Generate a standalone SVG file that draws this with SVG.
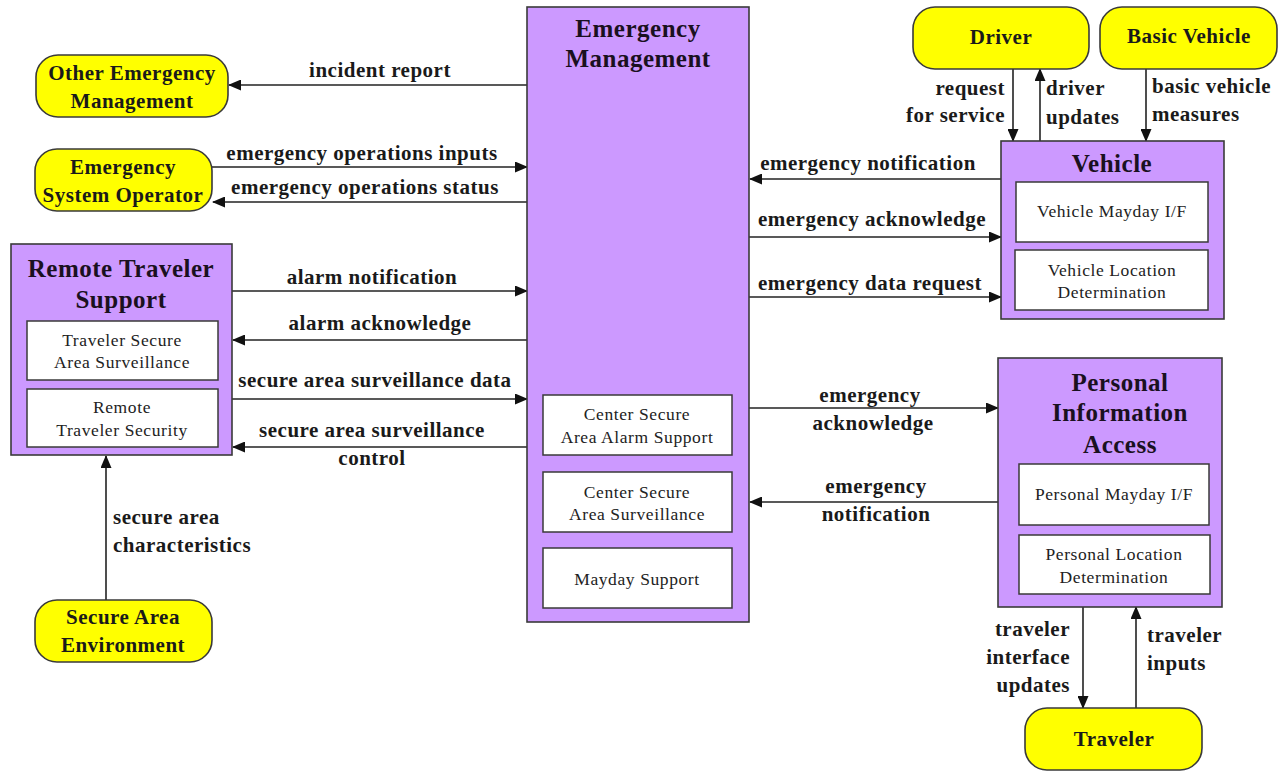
<svg xmlns="http://www.w3.org/2000/svg" width="1283" height="772" viewBox="0 0 1283 772">
<style>
.bg{fill:#ffffff}
.pbox{fill:#CC99FF;stroke:#3a3a3a;stroke-width:1.6}
.sub{fill:#ffffff;stroke:#3a3a3a;stroke-width:1.5}
.term{fill:#FFFF00;stroke:#3a3a3a;stroke-width:1.6}
.title{font-family:"Liberation Serif","Times New Roman",serif;font-weight:bold;font-size:25px;letter-spacing:0.5px;fill:#1a1020;text-anchor:middle}
.tn{font-family:"Liberation Serif","Times New Roman",serif;font-weight:bold;font-size:21px;letter-spacing:0.5px;fill:#1a1a1a;text-anchor:middle}
.st{font-family:"Liberation Serif","Times New Roman",serif;font-size:17.5px;letter-spacing:0.6px;fill:#222;text-anchor:middle}
.lb{font-family:"Liberation Serif","Times New Roman",serif;font-weight:bold;font-size:21px;letter-spacing:0.5px;fill:#1a1a1a}
.c{text-anchor:middle}
.e{text-anchor:end}
.conn{stroke:#222;stroke-width:1.6;fill:none;marker-end:url(#arr)}
</style>
<defs>
<marker id="arr" markerUnits="userSpaceOnUse" markerWidth="13" markerHeight="11" refX="12" refY="5.5" orient="auto">
<path d="M0,0 L13,5.5 L0,11 z" fill="#111"/>
</marker>
</defs>
<rect class="bg" x="0" y="0" width="1283" height="772"/>

<g id="connectors">
<line class="conn" x1="527" y1="85" x2="229" y2="85"/>
<line class="conn" x1="212" y1="167" x2="527" y2="167"/>
<line class="conn" x1="527" y1="202" x2="213" y2="202"/>
<line class="conn" x1="232" y1="291" x2="527" y2="291"/>
<line class="conn" x1="527" y1="340" x2="233" y2="340"/>
<line class="conn" x1="232" y1="399" x2="527" y2="399"/>
<line class="conn" x1="527" y1="447" x2="233" y2="447"/>
<line class="conn" x1="106" y1="600" x2="106" y2="456"/>
<line class="conn" x1="1013" y1="69" x2="1013" y2="141"/>
<line class="conn" x1="1040" y1="141" x2="1040" y2="69"/>
<line class="conn" x1="1146" y1="69" x2="1146" y2="141"/>
<line class="conn" x1="1001" y1="179" x2="750" y2="179"/>
<line class="conn" x1="749" y1="237" x2="1001" y2="237"/>
<line class="conn" x1="749" y1="297" x2="1001" y2="297"/>
<line class="conn" x1="749" y1="408" x2="998" y2="408"/>
<line class="conn" x1="998" y1="502" x2="750" y2="502"/>
<line class="conn" x1="1083" y1="607" x2="1083" y2="708"/>
<line class="conn" x1="1136" y1="708" x2="1136" y2="607"/>

<text class="lb c" x="380" y="77">incident report</text>
<text class="lb c" x="362" y="160">emergency operations inputs</text>
<text class="lb c" x="365" y="194">emergency operations status</text>
<text class="lb c" x="372" y="284">alarm notification</text>
<text class="lb c" x="380" y="330">alarm acknowledge</text>
<text class="lb c" x="375" y="387">secure area surveillance data</text>
<text class="lb c" x="372" y="437">secure area surveillance</text>
<text class="lb c" x="372" y="465">control</text>
<text class="lb" x="113" y="524">secure area</text>
<text class="lb" x="113" y="552">characteristics</text>
<text class="lb e" x="1005" y="95">request</text>
<text class="lb e" x="1005" y="122">for service</text>
<text class="lb" x="1046" y="95">driver</text>
<text class="lb" x="1046" y="124">updates</text>
<text class="lb" x="1152" y="93">basic vehicle</text>
<text class="lb" x="1152" y="121">measures</text>
<text class="lb c" x="868" y="170">emergency notification</text>
<text class="lb c" x="872" y="226">emergency acknowledge</text>
<text class="lb c" x="870" y="290">emergency data request</text>
<text class="lb c" x="870" y="402">emergency</text>
<text class="lb c" x="873" y="430">acknowledge</text>
<text class="lb c" x="876" y="493">emergency</text>
<text class="lb c" x="876" y="521">notification</text>
<text class="lb e" x="1070" y="636">traveler</text>
<text class="lb e" x="1070" y="664">interface</text>
<text class="lb e" x="1070" y="692">updates</text>
<text class="lb" x="1147" y="642">traveler</text>
<text class="lb" x="1147" y="670">inputs</text>
</g>

<g id="emergency-management">
<rect class="pbox" x="527" y="7" width="222" height="615"/>
<text class="title" x="638" y="37">Emergency</text>
<text class="title" x="638" y="67">Management</text>
<rect class="sub" x="543" y="395" width="189" height="60"/>
<text class="st" x="637" y="420">Center Secure</text>
<text class="st" x="637" y="443">Area Alarm Support</text>
<rect class="sub" x="543" y="472" width="189" height="60"/>
<text class="st" x="637" y="498">Center Secure</text>
<text class="st" x="637" y="520">Area Surveillance</text>
<rect class="sub" x="543" y="548" width="189" height="60"/>
<text class="st" x="637" y="585">Mayday Support</text>
</g>

<g id="other-emergency-management">
<rect class="term" x="36" y="55" width="192" height="62" rx="22"/>
<text class="tn" x="132" y="80">Other Emergency</text>
<text class="tn" x="132" y="108">Management</text>
</g>

<g id="emergency-system-operator">
<rect class="term" x="35" y="149" width="177" height="62" rx="22"/>
<text class="tn" x="123" y="174">Emergency</text>
<text class="tn" x="123" y="202">System Operator</text>
</g>

<g id="remote-traveler-support">
<rect class="pbox" x="11" y="244" width="221" height="211"/>
<text class="title" x="121" y="277">Remote Traveler</text>
<text class="title" x="121" y="308">Support</text>
<rect class="sub" x="27" y="321" width="191" height="59"/>
<text class="st" x="122" y="346">Traveler Secure</text>
<text class="st" x="122" y="368">Area Surveillance</text>
<rect class="sub" x="27" y="389" width="191" height="58"/>
<text class="st" x="122" y="413">Remote</text>
<text class="st" x="122" y="436">Traveler Security</text>
</g>

<g id="secure-area-environment">
<rect class="term" x="35" y="600" width="177" height="62" rx="22"/>
<text class="tn" x="123" y="624">Secure Area</text>
<text class="tn" x="123" y="652">Environment</text>
</g>

<g id="driver">
<rect class="term" x="913" y="7" width="176" height="62" rx="22"/>
<text class="tn" x="1001" y="44">Driver</text>
</g>

<g id="basic-vehicle">
<rect class="term" x="1100" y="7" width="177" height="62" rx="22"/>
<text class="tn" x="1189" y="43">Basic Vehicle</text>
</g>

<g id="vehicle">
<rect class="pbox" x="1001" y="141" width="223" height="178"/>
<text class="title" x="1112" y="172">Vehicle</text>
<rect class="sub" x="1016" y="182" width="192" height="60"/>
<text class="st" x="1112" y="217">Vehicle Mayday I/F</text>
<rect class="sub" x="1015" y="250" width="193" height="60"/>
<text class="st" x="1112" y="276">Vehicle Location</text>
<text class="st" x="1112" y="298">Determination</text>
</g>

<g id="personal-information-access">
<rect class="pbox" x="998" y="358" width="224" height="249"/>
<text class="title" x="1120" y="391">Personal</text>
<text class="title" x="1120" y="421">Information</text>
<text class="title" x="1120" y="453">Access</text>
<rect class="sub" x="1019" y="464" width="190" height="61"/>
<text class="st" x="1114" y="500">Personal Mayday I/F</text>
<rect class="sub" x="1019" y="535" width="191" height="59"/>
<text class="st" x="1114" y="560">Personal Location</text>
<text class="st" x="1114" y="583">Determination</text>
</g>

<g id="traveler">
<rect class="term" x="1025" y="708" width="177" height="62" rx="22"/>
<text class="tn" x="1114" y="746">Traveler</text>
</g>
</svg>
